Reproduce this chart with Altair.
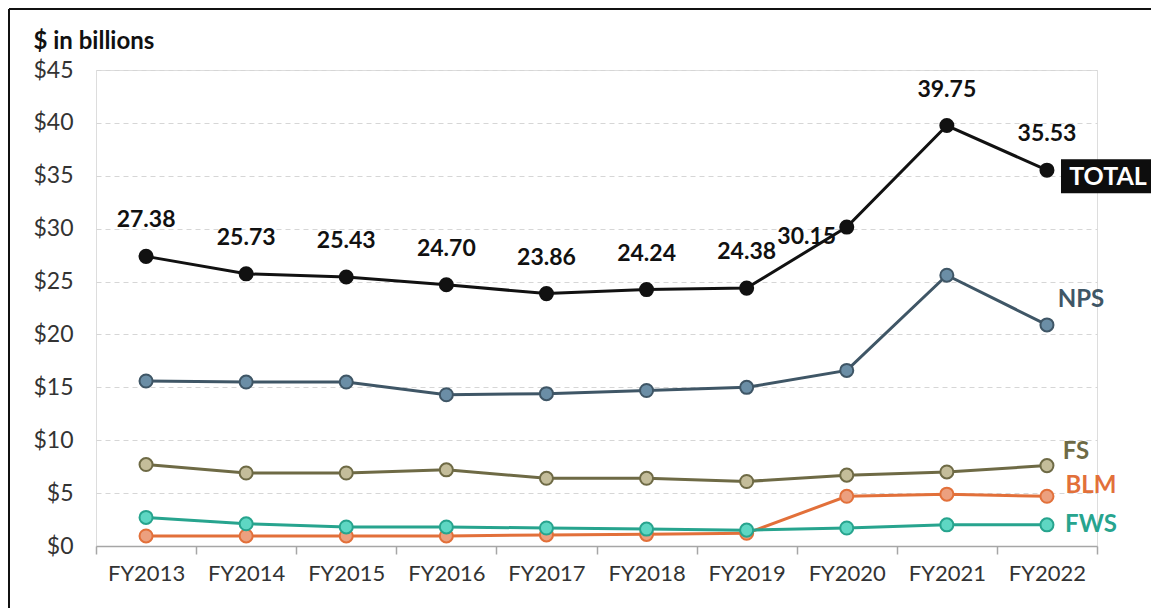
import altair as alt
import pandas as pd

years = ["FY2013", "FY2014", "FY2015", "FY2016", "FY2017", "FY2018", "FY2019", "FY2020", "FY2021", "FY2022"]
total = [27.38, 25.73, 25.43, 24.70, 23.86, 24.24, 24.38, 30.15, 39.75, 35.53]
nps = [15.6, 15.5, 15.5, 14.3, 14.4, 14.7, 15.0, 16.6, 25.6, 20.9]
fs = [7.7, 6.9, 6.9, 7.2, 6.4, 6.4, 6.1, 6.7, 7.0, 7.6]
blm = [0.95, 0.95, 0.95, 0.95, 1.05, 1.1, 1.2, 4.7, 4.9, 4.7]
fws = [2.7, 2.1, 1.8, 1.8, 1.7, 1.6, 1.5, 1.7, 2.0, 2.0]

series_names = ["TOTAL", "NPS", "FS", "BLM", "FWS"]
series_vals = [total, nps, fs, blm, fws]
line_colors = ["#111111", "#3f5666", "#6e6a45", "#e2703a", "#27a48e"]
fill_colors = ["#111111", "#6b8ea6", "#c4bd9a", "#eca07f", "#5ed7c3"]
label_colors = ["#111111", "#4a6272", "#6e6a45", "#e06a2c", "#2aa58e"]

rows = []
for name, vals in zip(series_names, series_vals):
    for y, v in zip(years, vals):
        rows.append({"year": y, "value": v, "series": name})
df = pd.DataFrame(rows)

FONT = "Lato"

xenc = alt.X("year:N", sort=years, title=None,
             scale=alt.Scale(paddingInner=0, paddingOuter=0),
             axis=alt.Axis(labelAngle=0, labelFontSize=22, labelColor="#333333", labelFont=FONT,
                           labelPadding=9, tickBand="extent", tickSize=8, tickColor="#a6a6a6",
                           domainColor="#a6a6a6", domainWidth=1.5, tickWidth=1.5, grid=False))
yenc = alt.Y("value:Q", scale=alt.Scale(domain=[0, 45], nice=False),
             axis=alt.Axis(values=list(range(0, 46, 5)), labelExpr="'$' + datum.value",
                           labelFontSize=23, labelColor="#333333", labelFont=FONT, labelPadding=23,
                           domain=False, ticks=False, grid=True, gridDash=[5, 4], gridColor="#d6d6d6",
                           title="$ in billions", titleAngle=0, titleAlign="left", titleBaseline="alphabetic",
                           titleX=-63, titleY=-22,
                           titleFontSize=24, titleFont=FONT, titleFontWeight="bold", titleColor="#111111"))

color_scale = alt.Scale(domain=series_names, range=line_colors)
fill_scale = alt.Scale(domain=series_names, range=fill_colors)
label_scale = alt.Scale(domain=series_names, range=label_colors)

base = alt.Chart(df)

layers = []
for name in series_names:
    sub = base.transform_filter(alt.datum.series == name)
    layers.append(sub.mark_line(strokeWidth=3).encode(
        x=xenc, y=yenc, color=alt.Color("series:N", scale=color_scale, legend=None)))
    layers.append(sub.mark_point(filled=True, size=170, strokeWidth=2, opacity=1).encode(
        x=xenc, y=yenc,
        fill=alt.Fill("series:N", scale=fill_scale, legend=None),
        stroke=alt.Stroke("series:N", scale=color_scale, legend=None)))

tot = base.transform_filter(alt.datum.series == "TOTAL")
labels_main = tot.transform_filter(alt.datum.year != "FY2020").mark_text(
    dy=-36, fontSize=23, fontWeight="bold", font=FONT, color="#111111"
).encode(x=xenc, y=yenc, text=alt.Text("value:Q", format=".2f"))
labels_2020 = tot.transform_filter(alt.datum.year == "FY2020").mark_text(
    dx=-40, dy=10, fontSize=23, fontWeight="bold", font=FONT, color="#111111"
).encode(x=xenc, y=yenc, text=alt.Text("value:Q", format=".2f"))

last = base.transform_filter(alt.datum.year == "FY2022")
end_labels = []
offsets = {"NPS": (34, -25), "FS": (29, -14), "BLM": (44, -10), "FWS": (44, 0)}
for name, (dx, dy) in offsets.items():
    end_labels.append(last.transform_filter(alt.datum.series == name).mark_text(
        dx=dx, dy=dy, fontSize=24, fontWeight="bold", font=FONT
    ).encode(x=xenc, y=yenc, text="series:N",
             color=alt.Color("series:N", scale=label_scale, legend=None)))

tot_last = tot.transform_filter(alt.datum.year == "FY2022")
total_bg = tot_last.mark_point(
    shape="M0.13,-0.102 L1,-0.102 L1,0.213 L0.13,0.213 Z",
    size=46656, filled=True, opacity=1, color="#0d0d0d", strokeWidth=0
).encode(x=xenc, y=yenc)
total_text = tot_last.mark_text(dx=61, dy=7, fontSize=25, fontWeight="bold", font=FONT,
                                color="white").encode(x=xenc, y=yenc, text="series:N")

one = alt.Chart(pd.DataFrame({"a": [0]}))
border_top = one.mark_rule(color="#111111", strokeWidth=2).encode(
    x=alt.value(-87), x2=alt.value(1100), y=alt.value(-61))
border_left = one.mark_rule(color="#111111", strokeWidth=2).encode(
    x=alt.value(-87), y=alt.value(-61), y2=alt.value(620))

chart = alt.layer(border_top, border_left, *layers, labels_main, labels_2020, *end_labels,
                  total_bg, total_text).properties(
    width=1001, height=476,
    autosize=alt.AutoSizeParams(type="none"),
    padding={"left": 88, "top": 62, "right": 54, "bottom": 62},
).configure_view(stroke=None).configure(background="white")

chart.save("out.html", embed_options={"renderer": "svg", "actions": False})
